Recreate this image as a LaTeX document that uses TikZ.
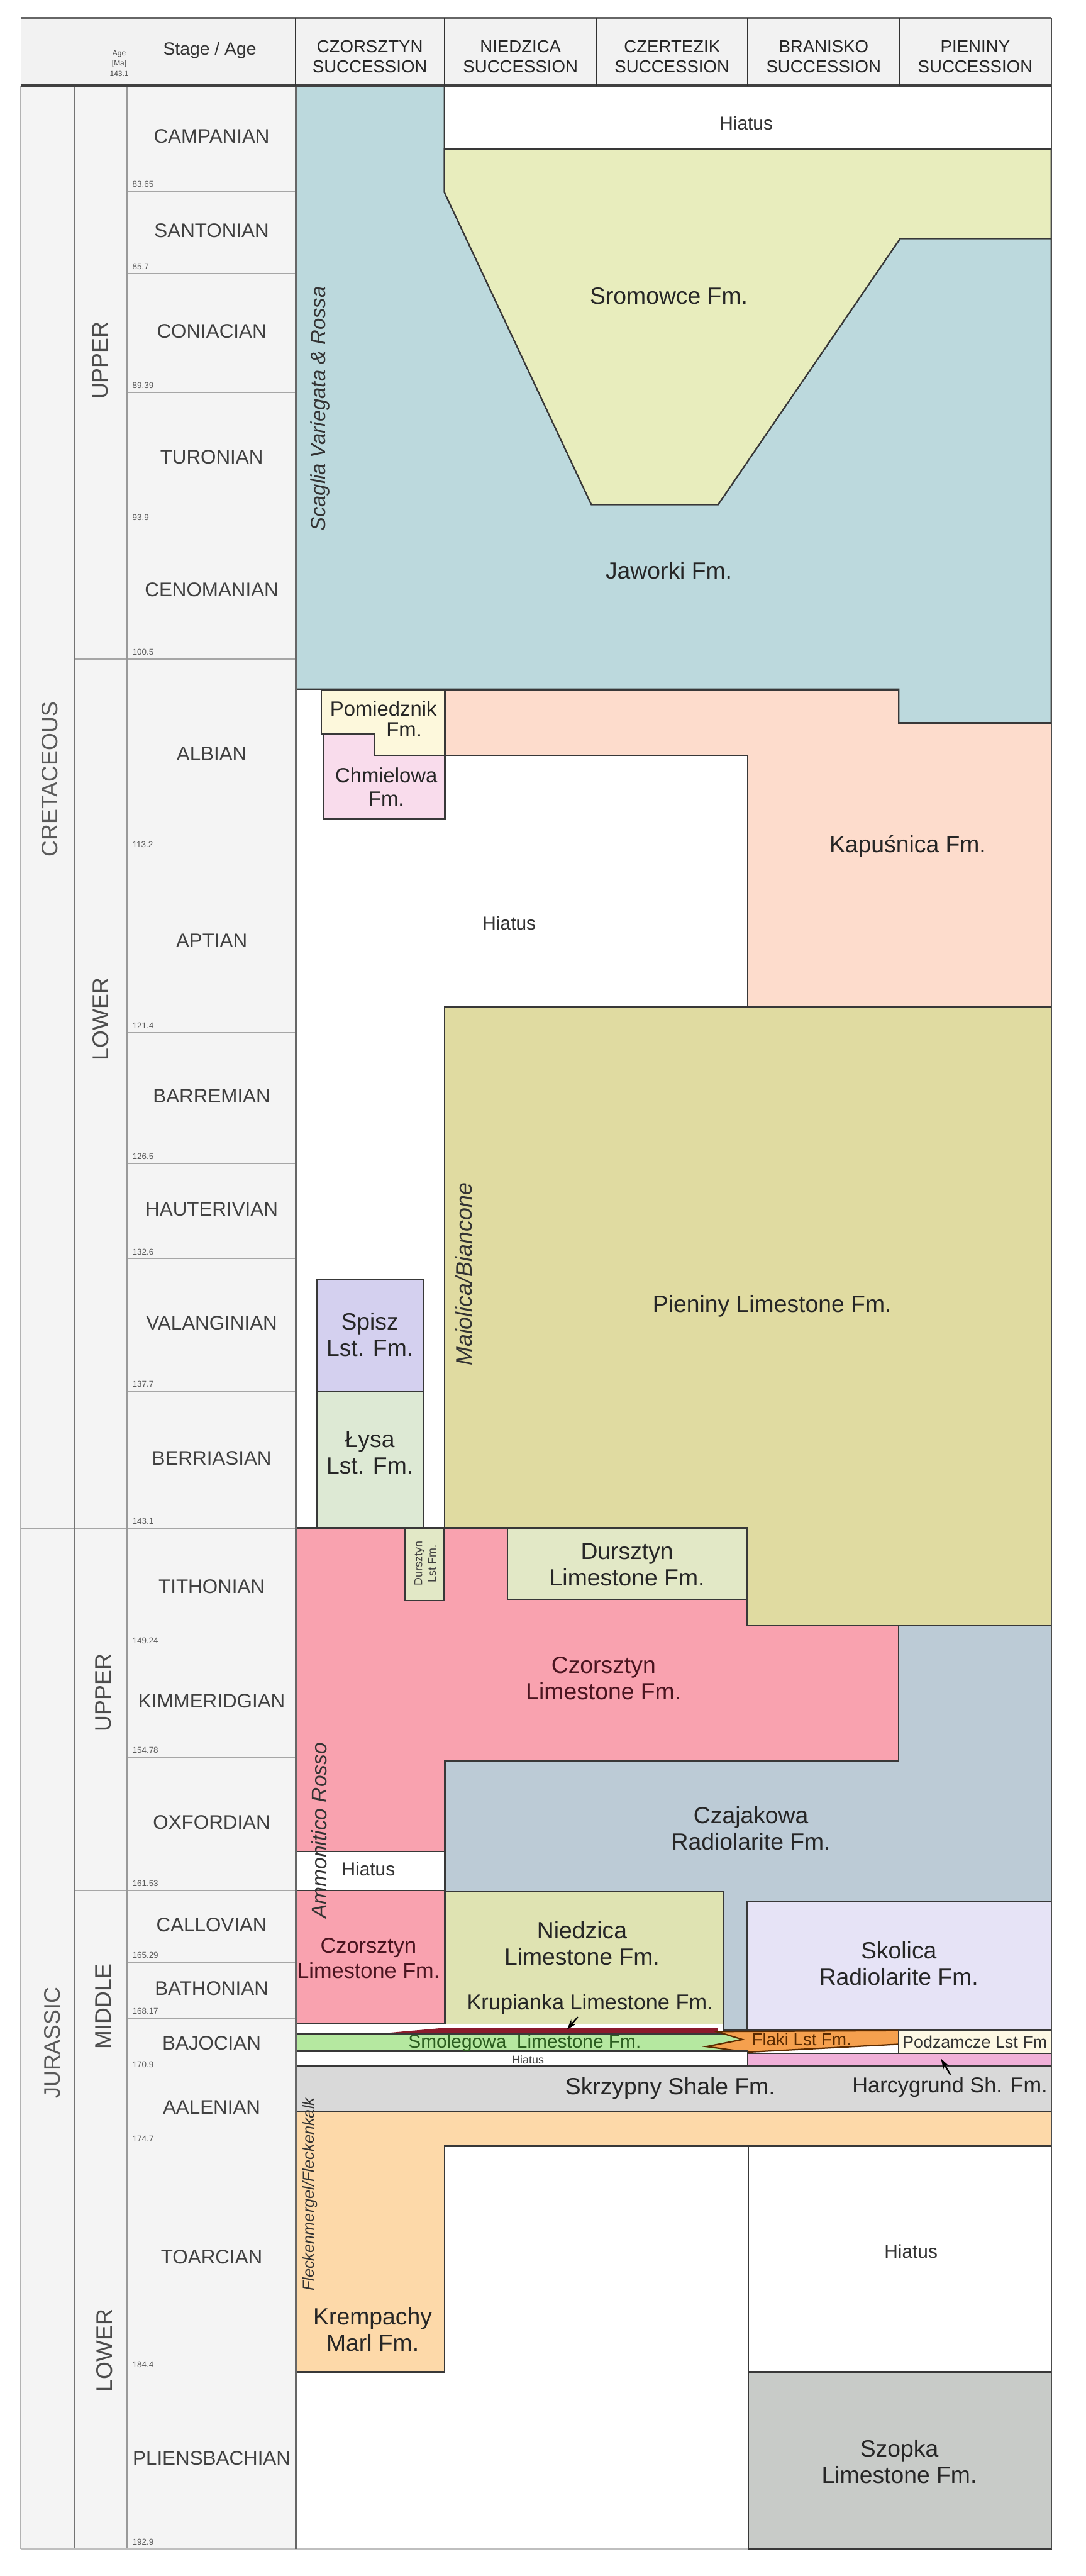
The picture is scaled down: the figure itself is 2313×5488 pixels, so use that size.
\documentclass[tikz,border=0pt]{standalone}
\usepackage{fontspec}
\setmainfont{Liberation Sans}
\usetikzlibrary{arrows.meta}

\definecolor{headgray}{HTML}{F2F2F2}
\definecolor{colgray}{HTML}{F4F4F4}
\definecolor{jaworki}{HTML}{BCD9DD}
\definecolor{sromowce}{HTML}{E8EDBD}
\definecolor{pomiedznik}{HTML}{FDF8DC}
\definecolor{chmielowa}{HTML}{F9DCEC}
\definecolor{kapusnica}{HTML}{FDDCCC}
\definecolor{pieniny}{HTML}{E0DBA1}
\definecolor{spisz}{HTML}{D4D0EF}
\definecolor{lysa}{HTML}{DDE9D4}
\definecolor{czorsztyn}{HTML}{F9A2AF}
\definecolor{dursztyn}{HTML}{E2E8C6}
\definecolor{czajakowa}{HTML}{BCCBD6}
\definecolor{niedzica}{HTML}{DFE3B2}
\definecolor{skolica}{HTML}{E6E3F6}
\definecolor{smolegowa}{HTML}{B5E8A0}
\definecolor{flaki}{HTML}{F5A04E}
\definecolor{podzamcze}{HTML}{FDF8E4}
\definecolor{pinkband}{HTML}{F0B0D8}
\definecolor{krupianka}{HTML}{8B1A2B}
\definecolor{skrzypny}{HTML}{D9D9D9}
\definecolor{krempachy}{HTML}{FDD9A9}
\definecolor{szopka}{HTML}{C8CBC8}
\definecolor{maroon}{HTML}{4A1520}
\definecolor{darkgreen}{HTML}{2B5D1F}
\definecolor{brownish}{HTML}{5A2A00}

\newcommand{\fnt}[2]{\fontsize{#1}{#2}\selectfont}

\begin{document}
\begin{tikzpicture}[x=1pt, y=-1pt,
  fm/.style={draw=black!78, line width=3pt},
  gap/.style={fm, fill=white},
  grid/.style={draw=black!35, line width=2pt},
  stg/.style={font=\fnt{42}{48}, text=black!75},
  ma/.style={font=\fnt{18}{20}, text=black!65, anchor=base west, inner sep=0pt},
  unit/.style={font=\fnt{48}{56}, text=black!65, rotate=90},
  succ/.style={font=\fnt{37}{43}, align=center, text=black!85},
  lbl/.style={font=\fnt{50}{56}, align=center, text=black!85},
  small/.style={font=\fnt{44}{50}, align=center, text=black!85},
  nick/.style={font=\itshape\fnt{44}{50}, rotate=90, text=black!80},
  hiat/.style={font=\fnt{40}{46}, text=black!80}]

  \useasboundingbox (0,0) rectangle (2313,5488);
  \fill[white] (0,0) rectangle (2313,5488);

  % Header and time scale background
  \fill[headgray] (44,39) rectangle (2240,183);
  \fill[colgray] (44,183) rectangle (630,5430);

  % Stages with their base ages
  \foreach \nm/\yt/\yb/\ma [count=\i] in {
      CAMPANIAN/183/407/83.65, SANTONIAN/407/583/85.7, CONIACIAN/583/837/89.39,
      TURONIAN/837/1118/93.9, CENOMANIAN/1118/1404/100.5, ALBIAN/1404/1815/113.2,
      APTIAN/1815/2200/121.4, BARREMIAN/2200/2479/126.5, HAUTERIVIAN/2479/2682/132.6,
      VALANGINIAN/2682/2964/137.7, BERRIASIAN/2964/3256/143.1, TITHONIAN/3256/3511/149.24,
      KIMMERIDGIAN/3511/3744/154.78, OXFORDIAN/3744/4028/161.53, CALLOVIAN/4028/4181/165.29,
      BATHONIAN/4181/4300/168.17, BAJOCIAN/4300/4414/170.9, AALENIAN/4414/4572/174.7,
      TOARCIAN/4572/5053/184.4, PLIENSBACHIAN/5053/5430/192.9} {
    \draw[grid] (271,\yb) -- (630,\yb);
    \node[stg] (st\i) at (451,{(\yt+\yb)/2-4}) {\nm};
    \node[ma] (ma\i) at (282,{\yb-9}) {\ma};
  }

  % Epoch and period boundaries
  \draw[grid] (158,1404) -- (271,1404);
  \draw[grid] (44,3256) -- (271,3256);
  \draw[grid] (158,4028) -- (271,4028);
  \draw[grid] (158,4572) -- (271,4572);
  \draw[line width=3pt, black!30] (44,183) -- (44,5430);
  \draw[line width=2pt, black!55] (158,183) -- (158,5430);
  \draw[line width=3pt, black!40] (271,183) -- (271,5430);
  \draw[line width=2pt, black!25] (44,5430) -- (1594,5430);

  \node[unit] (cret) at (106,1660) {CRETACEOUS};
  \node[unit] (jura) at (112,4352) {JURASSIC};
  \node[unit, text=black!70] (kup) at (214,768) {UPPER};
  \node[unit, text=black!70] (klo) at (214,2171) {LOWER};
  \node[unit, text=black!70] (jup) at (220,3606) {UPPER};
  \node[unit, text=black!70] (jmi) at (220,4275) {MIDDLE};
  \node[unit, text=black!70] (jlo) at (222,5008) {LOWER};

  % Upper Cretaceous
  \fill[jaworki, fm] (630,183) -- (947,183) -- (947,410) -- (1260,1075) -- (1530,1075)
    -- (1918,508) -- (2240,508) -- (2240,1540) -- (1915,1540) -- (1915,1468) -- (630,1468) -- cycle;
  \fill[sromowce, fm] (947,318) -- (2240,318) -- (2240,508) -- (1918,508) -- (1530,1075)
    -- (1260,1075) -- (947,410) -- cycle;
  \draw[gap] (947,183) rectangle (2240,318);

  % Lower Cretaceous
  \fill[pomiedznik, fm] (685,1470) -- (948,1470) -- (948,1609) -- (798,1609) -- (798,1563) -- (685,1563) -- cycle;
  \fill[chmielowa, fm] (689,1563) -- (798,1563) -- (798,1609) -- (948,1609) -- (948,1745) -- (689,1745) -- cycle;
  \fill[kapusnica, fm] (948,1469) -- (1915,1469) -- (1915,1540) -- (2240,1540) -- (2240,2145)
    -- (1593,2145) -- (1593,1609) -- (948,1609) -- cycle;
  \fill[pieniny, fm] (947,2145) -- (2240,2145) -- (2240,3463) -- (1592,3463) -- (1592,3255) -- (947,3255) -- cycle;
  \fill[spisz, fm] (675,2725) rectangle (903,2964);
  \fill[lysa, fm] (675,2964) rectangle (903,3255);

  % Upper Jurassic
  \fill[czorsztyn, fm] (630,3255) -- (1081,3255) -- (1081,3407) -- (1592,3407) -- (1592,3463)
    -- (1915,3463) -- (1915,3751) -- (948,3751) -- (948,3944) -- (630,3944) -- cycle;
  \fill[dursztyn, fm] (863,3255) rectangle (946,3410);
  \fill[dursztyn, fm] (1081,3255) rectangle (1592,3407);
  \draw[gap] (630,3944) rectangle (948,4028);
  \fill[czajakowa, fm] (948,3751) -- (1915,3751) -- (1915,3463) -- (2240,3463) -- (2240,4050)
    -- (1592,4050) -- (1592,4325) -- (1541,4325) -- (1541,4030) -- (948,4030) -- cycle;

  % Middle Jurassic
  \fill[czorsztyn, fm] (630,4028) rectangle (948,4311);
  \fill[niedzica, fm] (948,4030) rectangle (1541,4322);
  \fill[skolica, fm] (1592,4050) rectangle (2240,4325);
  \fill[white] (632,4313) rectangle (1541,4333);
  \fill[krupianka] (824,4331) -- (948,4320) -- (1530,4321) -- (1530,4332) -- (948,4334) -- cycle;
  \fill[smolegowa, fm] (630,4333) rectangle (1593,4370);
  \fill[flaki, draw=brownish, line width=3pt] (1915,4326) -- (1527,4328) -- (1582,4345) -- (1505,4360)
    -- (1593,4372) -- (1915,4355) -- cycle;
  \fill[podzamcze, fm] (1915,4326) rectangle (2240,4375);
  \fill[pinkband, fm] (1593,4375) rectangle (2240,4402);
  \draw[gap] (630,4370) rectangle (1593,4402);
  \fill[skrzypny, fm] (630,4402) rectangle (2240,4499);

  % Lower Jurassic
  \fill[krempachy, fm] (630,4499) -- (2240,4499) -- (2240,4572) -- (947,4572) -- (947,5053) -- (630,5053) -- cycle;
  \draw[gap] (1594,4572) rectangle (2240,5053);
  \fill[szopka, fm] (1594,5053) rectangle (2240,5430);
  \draw[dashed, black!35, line width=1.5pt] (1272,4410) -- (1272,4570);

  % Column frame
  \draw[line width=4pt, black!60] (630,183) -- (630,5430);
  \draw[line width=3pt, black!70] (2240,39) -- (2240,5430);
  \draw[line width=6pt, black!60] (44,39) -- (2240,39);
  \draw[line width=6pt, black!75] (44,183) -- (2240,183);
  \foreach \x in {630,947,1271,1593,1916}
    \draw[line width=2pt, black!80] (\x,39) -- (\x,183);

  % Header labels
  \node[font=\fnt{16}{22}, align=center, text=black!70] (agehd) at (254,135) {Age\\{[Ma]}\\143.1};
  \node[font=\fnt{38}{44}, text=black!80] (stagehd) at (447,108) {Stage / Age};
  \node[succ] (hczo) at (788,121) {CZORSZTYN\\SUCCESSION};
  \node[succ] (hnie) at (1109,121) {NIEDZICA\\SUCCESSION};
  \node[succ] (hcze) at (1432,121) {CZERTEZIK\\SUCCESSION};
  \node[succ] (hbra) at (1755,121) {BRANISKO\\SUCCESSION};
  \node[succ] (hpie) at (2078,121) {PIENINY\\SUCCESSION};

  % Cretaceous labels
  \node[hiat] (hia1) at (1590,263) {Hiatus};
  \node[lbl] (srom) at (1425,630) {Sromowce Fm.};
  \node[nick] (scag) at (682,871) {Scaglia Variegata \& Rossa};
  \node[lbl] (jaw) at (1425,1215) {Jaworki Fm.};
  \node[small] (pom) at (817,1510) {Pomiedznik};
  \node[small] (pomfm) at (861,1555) {Fm.};
  \node[small] (chm) at (823,1676) {Chmielowa\\Fm.};
  \node[hiat] (hia2) at (1085,1967) {Hiatus};
  \node[lbl] (kap) at (1934,1803) {Kapuśnica Fm.};
  \node[nick, font=\itshape\fnt{48}{54}] (maio) at (988,2715) {Maiolica/Biancone};
  \node[lbl] (pien) at (1645,2783) {Pieniny Limestone Fm.};
  \node[lbl] (spi) at (788,2843) {Spisz\\Lst. Fm.};
  \node[lbl] (lys) at (788,3095) {Łysa\\Lst. Fm.};

  % Jurassic labels
  \node[font=\fnt{24}{29}, align=center, rotate=90, text=black!75] (durs) at (906,3331) {Dursztyn\\Lst Fm.};
  \node[lbl] (durb) at (1336,3333) {Dursztyn\\Limestone Fm.};
  \node[lbl, text=maroon] (czo1) at (1286,3575) {Czorsztyn\\Limestone Fm.};
  \node[nick, font=\itshape\fnt{45}{50}] (ammo) at (680,3900) {Ammonitico Rosso};
  \node[hiat] (hia3) at (785,3982) {Hiatus};
  \node[lbl] (czaj) at (1600,3895) {Czajakowa\\Radiolarite Fm.};
  \node[lbl, font=\fnt{46}{54}, text=maroon] (czo2) at (785,4172) {Czorsztyn\\Limestone Fm.};
  \node[lbl] (nied) at (1240,4140) {Niedzica\\Limestone Fm.};
  \node[lbl, font=\fnt{46}{52}] (krup) at (1257,4270) {Krupianka Limestone Fm.};
  \node[lbl] (skol) at (1915,4183) {Skolica\\Radiolarite Fm.};
  \node[font=\fnt{40}{44}, text=darkgreen] (smol) at (1118,4353) {Smolegowa\ \ Limestone Fm.};
  \node[font=\fnt{37}{42}, text=brownish] (flak) at (1708,4345) {Flaki Lst Fm.};
  \node[font=\fnt{36}{40}, text=black!80] (podz) at (2077,4350) {Podzamcze Lst Fm};
  \node[font=\fnt{24}{28}, text=black!75] (hia4) at (1125,4388) {Hiatus};
  \node[lbl] (skrz) at (1428,4450) {Skrzypny Shale Fm.};
  \node[lbl, font=\fnt{46}{52}] (harc) at (2024,4447) {Harcygrund Sh. Fm.};
  \node[nick, font=\itshape\fnt{34}{40}] (flec) at (660,4675) {Fleckenmergel/Fleckenkalk};
  \node[lbl] (krem) at (794,4963) {Krempachy\\Marl Fm.};
  \node[hiat] (hia5) at (1941,4796) {Hiatus};
  \node[lbl] (szop) at (1916,5244) {Szopka\\Limestone Fm.};

  % Pointers
  \coordinate (krT) at (1231,4297);
  \coordinate (krH) at (1208,4324);
  \draw[-{Stealth[length=22pt, width=14pt]}, line width=3pt] (krT) -- (krH);
  \coordinate (haT) at (2025,4420);
  \coordinate (haH) at (2005,4386);
  \draw[-{Stealth[length=22pt, width=14pt]}, line width=3pt] (haT) -- (haH);
\end{tikzpicture}
\end{document}
